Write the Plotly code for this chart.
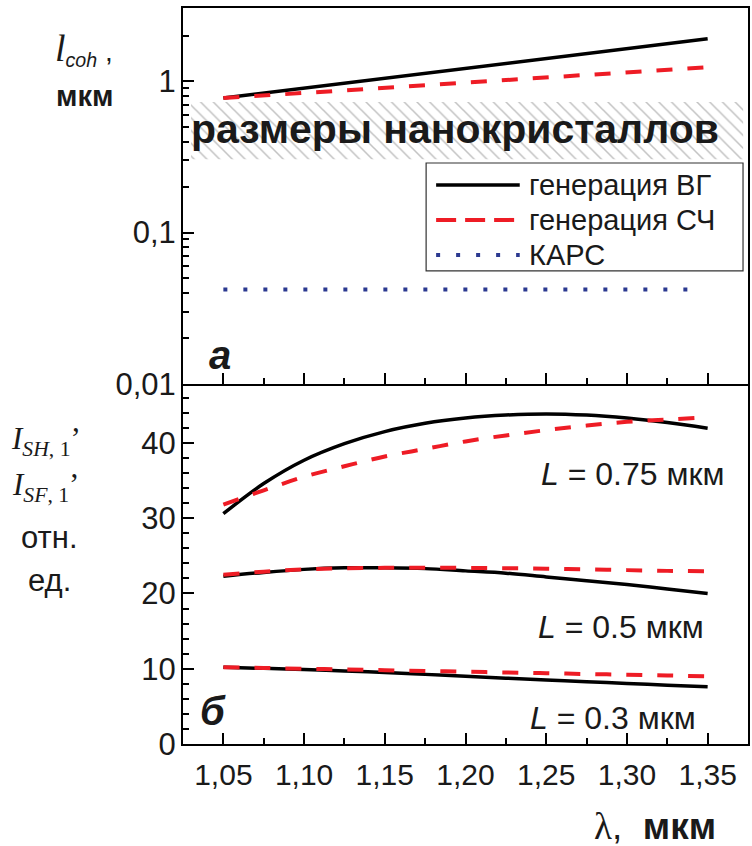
import plotly.graph_objects as go

# ---------------- data ----------------
lam_top = [1.05, 1.10, 1.15, 1.20, 1.25, 1.30, 1.35]
lcoh_sh = [0.775, 0.90, 1.045, 1.215, 1.41, 1.64, 1.91]
lcoh_sf = [0.775, 0.84, 0.905, 0.98, 1.06, 1.145, 1.24]
lam_cars = [1.05, 1.34]
lcoh_cars = [0.042, 0.042]

band_lam = [1.030, 1.372]
band_size = [0.305, 0.73]

lam = [1.05, 1.075, 1.10, 1.125, 1.15, 1.175, 1.20, 1.225, 1.25, 1.275, 1.30, 1.325, 1.35]
sh_075 = [30.6, 34.6, 37.7, 39.9, 41.5, 42.6, 43.3, 43.7, 43.85, 43.7, 43.3, 42.7, 41.95]
sf_075 = [31.8, 33.7, 35.5, 36.9, 38.2, 39.2, 40.2, 41.0, 41.7, 42.3, 42.8, 43.1, 43.4]
sh_05 = [22.3, 22.8, 23.2, 23.4, 23.4, 23.3, 23.0, 22.7, 22.2, 21.7, 21.2, 20.6, 20.0]
sf_05 = [22.5, 22.9, 23.2, 23.35, 23.4, 23.4, 23.4, 23.35, 23.3, 23.2, 23.1, 23.0, 22.95]
sh_03 = [10.2, 10.05, 9.9, 9.7, 9.5, 9.25, 9.0, 8.75, 8.5, 8.27, 8.05, 7.82, 7.6]
sf_03 = [10.2, 10.1, 10.0, 9.9, 9.8, 9.7, 9.6, 9.5, 9.4, 9.3, 9.2, 9.1, 9.0]

series_names = ["генерация ВГ", "генерация СЧ", "КАРС"]

x_ticks = [1.05, 1.10, 1.15, 1.20, 1.25, 1.30, 1.35]
x_ticktext = ["1,05", "1,10", "1,15", "1,20", "1,25", "1,30", "1,35"]
ytop_ticks = [0.01, 0.1, 1]
ytop_ticktext = ["0,01", "0,1", "1"]
ytop_minor = [0.02, 0.03, 0.04, 0.05, 0.06, 0.07, 0.08, 0.09,
              0.2, 0.3, 0.4, 0.5, 0.6, 0.7, 0.8, 0.9, 2]

# ---------------- style ----------------
SANS = "Liberation Sans, Arial, sans-serif"
SERIF = "Liberation Serif, Times New Roman, serif"
BLACK = "#000000"
RED = "#ee1c25"
BLUE = "#2b3990"
TXT = "#1a1a1a"
LINE_SH = dict(color=BLACK, width=3.5)
LINE_SF = dict(color=RED, width=4, dash="16px,15px")
LINE_CARS = dict(color=BLUE, width=4, dash="4px,16px")

fig = go.Figure()

# hatched band (nanocrystal sizes)
fig.add_trace(go.Scatter(
    x=[band_lam[0], band_lam[1], band_lam[1], band_lam[0], band_lam[0]],
    y=[band_size[0], band_size[0], band_size[1], band_size[1], band_size[0]],
    xaxis="x2", yaxis="y2", mode="lines", line=dict(width=0),
    fill="toself", fillcolor="rgba(255,255,255,0)",
    fillpattern=dict(shape="\\", fgcolor="#858585", bgcolor="rgba(255,255,255,0)",
                     size=9, solidity=0.17),
    showlegend=False, hoverinfo="skip"))

# top panel
fig.add_trace(go.Scatter(x=lam_top, y=lcoh_sh, xaxis="x2", yaxis="y2", mode="lines",
                         line=LINE_SH, name=series_names[0], showlegend=False))
fig.add_trace(go.Scatter(x=lam_top, y=lcoh_sf, xaxis="x2", yaxis="y2", mode="lines",
                         line=LINE_SF, name=series_names[1], showlegend=False))
fig.add_trace(go.Scatter(x=lam_cars, y=lcoh_cars, xaxis="x2", yaxis="y2", mode="lines",
                         line=LINE_CARS, name=series_names[2], showlegend=False))

# bottom panel
for sh, sf in [(sh_075, sf_075), (sh_05, sf_05), (sh_03, sf_03)]:
    fig.add_trace(go.Scatter(x=lam, y=sh, xaxis="x", yaxis="y", mode="lines",
                             line=dict(**LINE_SH, shape="spline"),
                             name=series_names[0], showlegend=False))
    fig.add_trace(go.Scatter(x=lam, y=sf, xaxis="x", yaxis="y", mode="lines",
                             line=dict(**LINE_SF, shape="spline"),
                             name=series_names[1], showlegend=False))

common_x = dict(range=[1.025, 1.375], showgrid=False, zeroline=False,
                showline=True, linecolor=BLACK, linewidth=2, mirror=True,
                ticks="inside", ticklen=11, tickwidth=2, tickcolor=BLACK,
                tickvals=x_ticks, ticktext=x_ticktext,
                minor=dict(ticks="inside", ticklen=6, tickwidth=2, tickcolor=BLACK,
                           dtick=0.025, tick0=1.025, showgrid=False))

fig.update_layout(
    width=752, height=846,
    margin=dict(l=183, r=2, t=8, b=102),
    paper_bgcolor="white", plot_bgcolor="white",
    font=dict(family=SANS, size=26, color=TXT),
    xaxis=dict(**common_x, anchor="y", domain=[0, 1],
               tickfont=dict(size=30), ticklabelstandoff=3),
    xaxis2=dict(**common_x, anchor="y2", domain=[0, 1], matches="x",
                showticklabels=False),
    yaxis=dict(domain=[0, 0.4868], range=[0, 47.6], showgrid=False, zeroline=False,
               showline=True, linecolor=BLACK, linewidth=2, mirror=True,
               ticks="inside", ticklen=11, tickwidth=2, tickcolor=BLACK,
               dtick=10, tick0=0, tickfont=dict(size=31), ticklabelstandoff=-1,
               minor=dict(ticks="inside", ticklen=6, tickwidth=2, tickcolor=BLACK,
                          dtick=2, tick0=0, showgrid=False)),
    yaxis2=dict(domain=[0.4895, 1], type="log", range=[-2, 0.485],
                showgrid=False, zeroline=False,
                showline=True, linecolor=BLACK, linewidth=2, mirror=True,
                ticks="inside", ticklen=11, tickwidth=2, tickcolor=BLACK,
                tickvals=ytop_ticks, ticktext=ytop_ticktext,
                tickfont=dict(size=31), ticklabelstandoff=-1,
                minor=dict(ticks="inside", ticklen=6, tickwidth=2, tickcolor=BLACK,
                           tickmode="array", tickvals=ytop_minor, showgrid=False)),
    showlegend=False,
)

# ---- legend box (drawn in paper coordinates) ----
LEG_X0, LEG_X1, LEG_Y0, LEG_Y1 = 0.4303, 0.9912, 0.6427, 0.7894
SAMPLE_X0, SAMPLE_X1, TEXT_X = 0.448, 0.596, 0.609
ROW_Y = [0.7595, 0.712, 0.6644]
shapes = [dict(type="rect", xref="paper", yref="paper",
               x0=LEG_X0, x1=LEG_X1, y0=LEG_Y0, y1=LEG_Y1,
               line=dict(color="#333333", width=1.2), fillcolor="white", layer="above")]
leg_styles = [LINE_SH, dict(color=RED, width=4, dash="20px,9px"), LINE_CARS]
for ry, st in zip(ROW_Y, leg_styles):
    shapes.append(dict(type="line", xref="paper", yref="paper",
                       x0=SAMPLE_X0, x1=SAMPLE_X1, y0=ry, y1=ry, line=st, layer="above"))
fig.update_layout(shapes=shapes)


def note(x, y, text, size, family=SANS, xref="paper", yref="paper", xanchor="center"):
    return dict(xref=xref, yref=yref, x=x, y=y, text=text, showarrow=False,
                xanchor=xanchor, yanchor="middle",
                font=dict(family=family, size=size, color=TXT))


ann = [
    note(0.482, 0.835, "<b>размеры нанокристаллов</b>", 41),
    note(0.065, 0.5285, "<b><i>а</i></b>", 40),
    note(0.053, 0.0445, "<b><i>б</i></b>", 40),
    note(1.3035, 35.9, "<i>L</i> = 0.75 мкм", 32, xref="x", yref="y"),
    note(1.2965, 15.5, "<i>L</i> = 0.5 мкм", 32, xref="x", yref="y"),
    note(1.2915, 3.5, "<i>L</i> = 0.3 мкм", 32, xref="x", yref="y"),
    note(-0.175, 0.944,
         "<span style='font-family:Liberation Serif;font-size:38px'><i>l</i></span>"
         "<i><sub>coh</sub></i> ,", 28),
    note(-0.175, 0.88, "<b>мкм</b>", 29),
    note(-0.243, 0.412, "<i>I</i><sub><i>SH</i>, 1</sub>’", 31, family=SERIF),
    note(-0.243, 0.349, "<i>I</i><sub><i>SF</i>, 1</sub>’", 31, family=SERIF),
    note(-0.237, 0.281, "отн.", 31),
    note(-0.237, 0.222, "ед.", 31),
    note(0.836, -0.112,
         "<span style='font-family:Liberation Serif'>λ</span>,  <b>мкм</b>", 37),
]
for ry, name in zip(ROW_Y, series_names):
    ann.append(note(TEXT_X, ry, name, 29, xanchor="left"))
fig.update_layout(annotations=ann)

fig.write_html("out.html")
